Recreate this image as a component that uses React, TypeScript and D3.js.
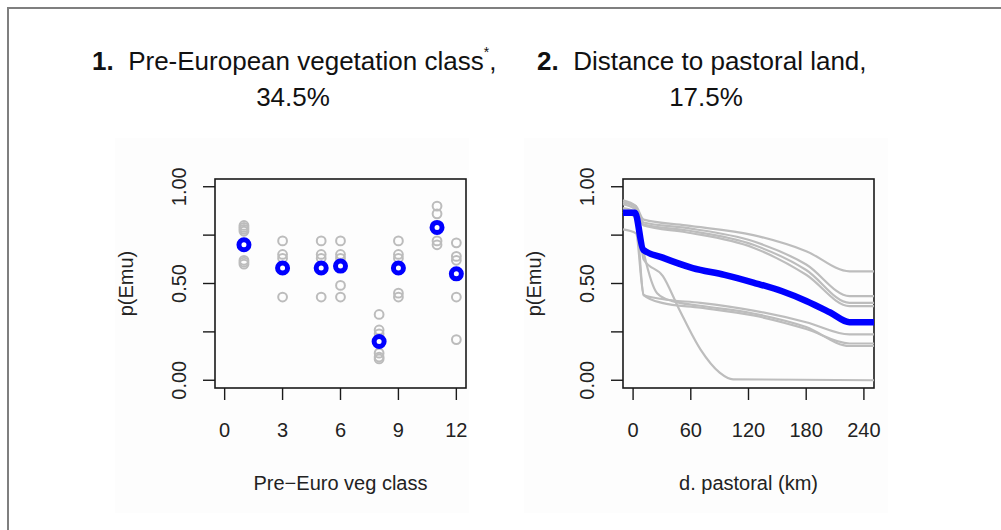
import React from 'react';
import * as d3 from 'd3';

// Panel 1: pre-European vegetation class
const vegClasses = [1, 3, 5, 6, 8, 9, 11, 12];
const vegMean = [0.70, 0.58, 0.58, 0.59, 0.20, 0.58, 0.79, 0.55];
const vegRuns: number[][] = [
  [0.80, 0.79, 0.78, 0.77, 0.62, 0.61, 0.60],
  [0.72, 0.65, 0.63, 0.43],
  [0.72, 0.65, 0.63, 0.43],
  [0.72, 0.65, 0.63, 0.49, 0.43],
  [0.34, 0.26, 0.24, 0.14, 0.12, 0.11],
  [0.72, 0.65, 0.63, 0.45, 0.43],
  [0.90, 0.86, 0.72, 0.70],
  [0.71, 0.64, 0.62, 0.43, 0.21],
];
const vegTicks = [0, 3, 6, 9, 12];

// Panel 2: distance to pastoral land (km)
const pastoralMean: [number, number][] = [
  [-10.5, 0.865], [2, 0.865], [10.5, 0.675], [30, 0.635], [62, 0.58], [95, 0.545],
  [125, 0.505], [155, 0.46], [180, 0.41], [205, 0.35], [225, 0.30], [250.5, 0.30],
];
const pastoralRuns: [number, number][][] = [
  [[-10.5, 0.93], [3, 0.9], [11, 0.83], [55, 0.80], [125, 0.75], [180, 0.667], [225, 0.563], [250.5, 0.563]],
  [[-10.5, 0.92], [3, 0.89], [11, 0.815], [55, 0.787], [125, 0.718], [180, 0.598], [225, 0.435], [250.5, 0.435]],
  [[-10.5, 0.91], [3, 0.88], [11, 0.805], [55, 0.775], [125, 0.70], [180, 0.57], [225, 0.40], [250.5, 0.40]],
  [[-10.5, 0.89], [3, 0.87], [11, 0.80], [55, 0.765], [125, 0.685], [180, 0.545], [225, 0.383], [250.5, 0.383]],
  [[-10.5, 0.87], [3, 0.84], [11, 0.44], [30, 0.42], [70, 0.40], [125, 0.36], [180, 0.30], [225, 0.237], [250.5, 0.237]],
  [[-10.5, 0.78], [3, 0.76], [11, 0.44], [30, 0.40], [70, 0.375], [125, 0.335], [180, 0.265], [225, 0.19], [250.5, 0.19]],
  [[-10.5, 0.88], [3, 0.86], [11, 0.66], [25, 0.45], [40, 0.41], [70, 0.385], [125, 0.345], [180, 0.275], [225, 0.177], [250.5, 0.177]],
  [[-10.5, 0.92], [3, 0.9], [11, 0.624], [31, 0.538], [48, 0.366], [70, 0.16], [90, 0.04], [104, 0.005], [250.5, 0.0]],
];
const distTicks = [0, 60, 120, 180, 240];

const yTicks = [0, 0.25, 0.5, 0.75, 1];
const yLabels = ['0.00', '', '0.50', '', '1.00'];

const FONT = '"Liberation Sans", Arial, Helvetica, sans-serif';

function Axes({ x, y, xTicks, xTitle }: { x: d3.ScaleLinear<number, number>; y: d3.ScaleLinear<number, number>; xTicks: number[]; xTitle: string }) {
  const [x0, x1] = x.range();
  const [y0, y1] = y.range();
  const midY = (y0 + y1) / 2;
  return (
    <g fontFamily={FONT}>
      <rect x={x0} y={y1} width={x1 - x0} height={y0 - y1} fill="none" stroke="#1a1a1a" strokeWidth={1.6} />
      {xTicks.map(t => (
        <g key={'x' + t}>
          <line x1={x(t)} x2={x(t)} y1={y0} y2={y0 + 12} stroke="#1a1a1a" strokeWidth={1.4} />
          <text x={x(t)} y={437} fontSize={20} textAnchor="middle" fill="#222">{t}</text>
        </g>
      ))}
      {yTicks.map((t, i) => (
        <g key={'y' + t}>
          <line x1={x0 - 12} x2={x0} y1={y(t)} y2={y(t)} stroke="#1a1a1a" strokeWidth={1.4} />
          {yLabels[i] && (
            <text transform={`translate(${x0 - 29},${y(t)}) rotate(-90)`} fontSize={20} textAnchor="middle" fill="#222">{yLabels[i]}</text>
          )}
        </g>
      ))}
      <text transform={`translate(${x0 - 82},${midY}) rotate(-90)`} fontSize={20} textAnchor="middle" fill="#222">p(Emu)</text>
      <text x={(x0 + x1) / 2} y={490} fontSize={20} textAnchor="middle" fill="#222">{xTitle}</text>
    </g>
  );
}

export default function App() {
  const W = 1001;
  const H = 530;

  const y1 = d3.scaleLinear().domain([-0.04, 1.04]).range([388, 179]);
  const xVeg = d3.scaleLinear().domain([-0.5, 12.5]).range([215, 466]);
  const xDist = d3.scaleLinear().domain([-10.5, 250.5]).range([623, 874]);

  const line = d3.line<[number, number]>()
    .x(d => xDist(d[0]))
    .y(d => y1(d[1]))
    .curve(d3.curveMonotoneX);

  return (
    <svg width={W} height={H} style={{ position: 'absolute', left: 0, top: 0, background: '#fff' }}>
      <rect x={0} y={0} width={W} height={H} fill="#fff" />
      <rect x={8} y={8} width={1100} height={600} fill="none" stroke="#7f7f7f" strokeWidth={2} />

      {/* faint plot backgrounds */}
      <rect x={115} y={138} width={354} height={375} fill="#fdfdfd" />
      <rect x={524} y={138} width={364} height={375} fill="#fdfdfd" />

      {/* titles */}
      <g fontFamily={FONT} fontSize={26} fill="#111">
        <text x={92} y={70}>
          <tspan fontWeight="bold">1.</tspan>
          <tspan>{'\u00a0\u00a0Pre-European vegetation class'}</tspan>
          <tspan fontSize={14} dy={-13}>*</tspan>
          <tspan dy={13}>,</tspan>
        </text>
        <text x={293} y={106} textAnchor="middle">34.5%</text>
        <text x={537} y={70}>
          <tspan fontWeight="bold">2.</tspan>
          <tspan>{'\u00a0\u00a0Distance to pastoral land,'}</tspan>
        </text>
        <text x={706} y={106} textAnchor="middle">17.5%</text>
      </g>

      {/* panel 1 */}
      <Axes x={xVeg} y={y1} xTicks={vegTicks} xTitle={'Pre\u2212Euro veg class'} />
      {vegClasses.map((c, i) => (
        <g key={c}>
          {vegRuns[i].map((v, j) => (
            <circle key={j} cx={xVeg(c)} cy={y1(v)} r={4.4} fill="none" stroke="#bcbcbc" strokeWidth={2} />
          ))}
          <circle cx={xVeg(c)} cy={y1(vegMean[i])} r={5} fill="#fff" stroke="#0000ff" strokeWidth={5} />
        </g>
      ))}

      {/* panel 2 */}
      <Axes x={xDist} y={y1} xTicks={distTicks} xTitle="d. pastoral (km)" />
      {pastoralRuns.map((run, i) => (
        <path key={i} d={line(run) ?? ''} fill="none" stroke="#bdbdbd" strokeWidth={2.2} />
      ))}
      <path d={line(pastoralMean) ?? ''} fill="none" stroke="#0000ff" strokeWidth={6.5} strokeLinejoin="round" />
    </svg>
  );
}
